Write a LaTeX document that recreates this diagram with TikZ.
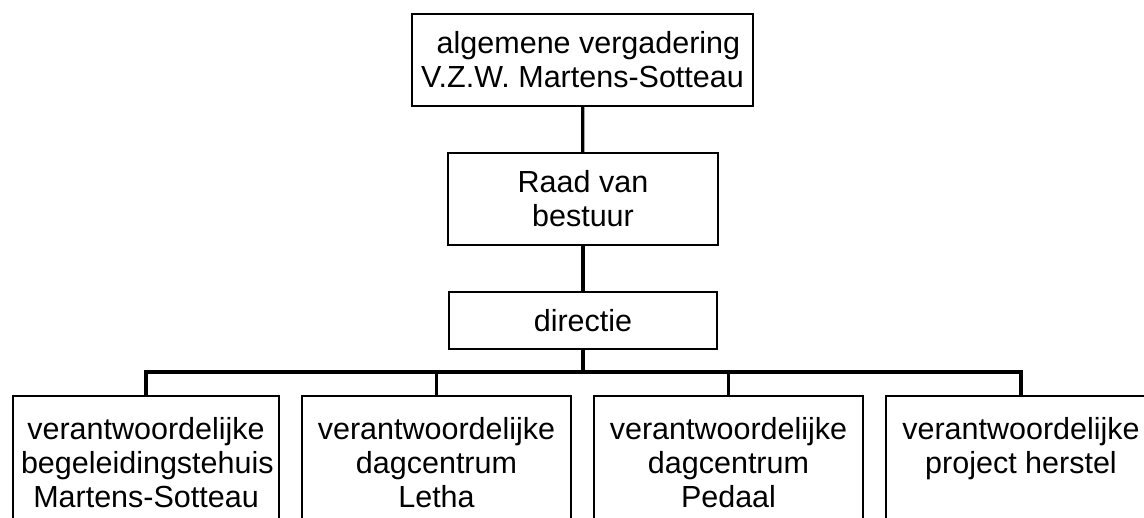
\documentclass[tikz,border=0pt]{standalone}
\usepackage{fontspec}
\setmainfont{Liberation Sans}
\usepackage{tikz}

\begin{document}
\begin{tikzpicture}[x=1pt,y=-1pt,
		orgbox/.style={draw,line width=1.6pt,inner sep=0pt,align=center,font=\fontsize{30.5}{34}\selectfont},
		unitbox/.style={orgbox,anchor=north,inner ysep=22pt,inner xsep=0pt},
		tie/.style={line width=3.2pt,line join=miter}]
		\useasboundingbox (0,0) rectangle (1144,518);
		\clip (0,0) rectangle (1144,518);
		\node[orgbox,minimum width=341pt,minimum height=92pt] (algvg) at (582.5,60) {\hspace*{12pt}algemene vergadering\\V.Z.W. Martens-Sotteau};
		\node[orgbox,minimum width=270pt,minimum height=92pt] (raad) at (583,199) {Raad van\\bestuur};
		\node[orgbox,minimum width=268pt,minimum height=57pt] (dir) at (583,320.5) {directie};
		\coordinate (bus) at (0,372);
		\foreach \n/\x/\w/\t in {1/146/266/{verantwoordelijke\\begeleidingstehuis\\Martens-Sotteau},
				2/436.5/269/{verantwoordelijke\\dagcentrum\\Letha},
				3/728.5/269/{verantwoordelijke\\dagcentrum\\Pedaal},
				4/1021/270/{verantwoordelijke\\project herstel}}
			\node[unitbox,minimum width=\w pt] (vb\n) at (\x,395) {\parbox[t][110pt][t]{250pt}{\centering\t}};
		\draw[tie] (algvg) -- (raad);
		\draw[tie] (raad) -- (dir);
		\draw[tie] (dir.south) -- (dir.south |- bus);
		\draw[tie] (vb1.north) -- (vb1.north |- bus) -- (vb4.north |- bus) -- (vb4.north);
		\foreach \n in {2,3} \draw[tie] (vb\n.north) -- (vb\n.north |- bus);
	\end{tikzpicture}
\end{document}
